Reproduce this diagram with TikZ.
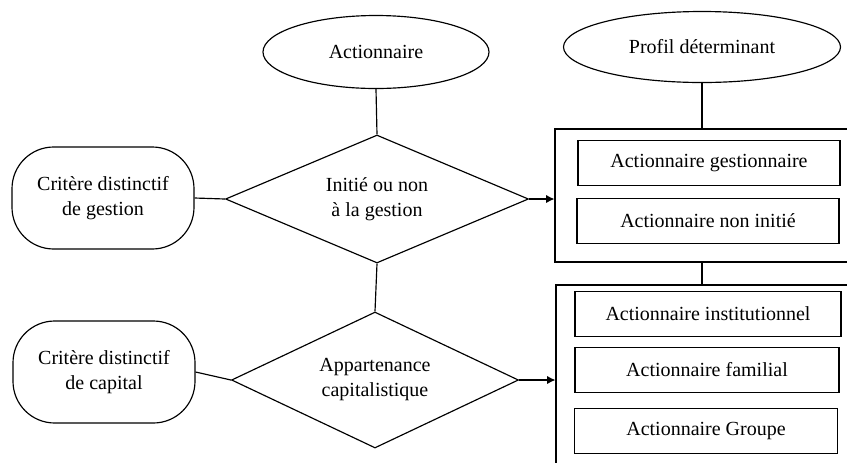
\documentclass[tikz,border=0pt]{standalone}
\usepackage{fontspec}
\setmainfont{Liberation Serif}
\usetikzlibrary{shapes.geometric,arrows.meta}
\begin{document}
\begin{tikzpicture}[x=0.6pt,y=-0.6pt,
  every node/.style={font=\fontsize{12}{15}\selectfont, line width=0.7pt},
  oval/.style={draw, ellipse, inner sep=0pt},
  losange/.style={draw, diamond, inner sep=0pt, shape aspect=2.4, align=center},
  crit/.style={draw, rectangle, rounded corners=25pt, inner sep=0pt, align=center,
    minimum width={182*0.6pt}, minimum height={102*0.6pt}},
  cadre/.style={draw, rectangle, inner sep=0pt},
  profil/.style={draw, rectangle, inner sep=0pt, minimum height={45*0.6pt}},
  lien/.style={draw, line width=0.7pt},
  fleche/.style={draw, line width=0.7pt, -{Latex[length=5pt,width=5pt]}}
]
\useasboundingbox (0,0) rectangle (847,462);

\node[oval, minimum width={226*0.6pt}, minimum height={73*0.6pt}] (e1) at (376,52) {Actionnaire};
\node[oval, minimum width={277*0.6pt}, minimum height={71*0.6pt}] (e2) at (702,47) {Profil déterminant};

\node[losange, minimum width={303*0.6pt}, minimum height={128*0.6pt}] (d1) at (377,199) {Initié ou non\\à la gestion};
\node[losange, minimum width={287*0.6pt}, minimum height={136*0.6pt}] (d2) at (375,380) {Appartenance\\capitalistique};

\node[crit] (c1) at (103,198) {Critère distinctif\\de gestion};
\node[crit] (c2) at (104,372) {Critère distinctif\\de capital};

\node[cadre, minimum width={305*0.6pt}, minimum height={133*0.6pt}] (b1) at (707.5,195.5) {};
\node[cadre, minimum width={304*0.6pt}, minimum height={190*0.6pt}] (b2) at (708,380) {};

\node[profil, minimum width={262*0.6pt}] (p1) at (709,163) {Actionnaire gestionnaire};
\node[profil, minimum width={262*0.6pt}] (p2) at (708,221) {Actionnaire non initié};
\node[profil, minimum width={266*0.6pt}] (p3) at (708,314) {Actionnaire institutionnel};
\node[profil, minimum width={264*0.6pt}] (p4) at (707,370) {Actionnaire familial};
\node[profil, minimum width={263*0.6pt}] (p5) at (706,431) {Actionnaire Groupe};

\draw[lien] (e1.south) -- (d1.north);
\draw[lien] (d1.south) -- (d2.north);
\draw[lien] (c1.east) -- (d1.west);
\draw[lien] (c2.east) -- (d2.west);
\draw[fleche] (d1.east) -- (d1.east -| b1.west);
\draw[fleche] (d2.east) -- (d2.east -| b2.west);
\draw[lien] (e2.south) -- (e2.south |- b1.north);
\draw[lien] (b1.south -| e2.south) -- (b2.north -| e2.south);
\end{tikzpicture}
\end{document}
